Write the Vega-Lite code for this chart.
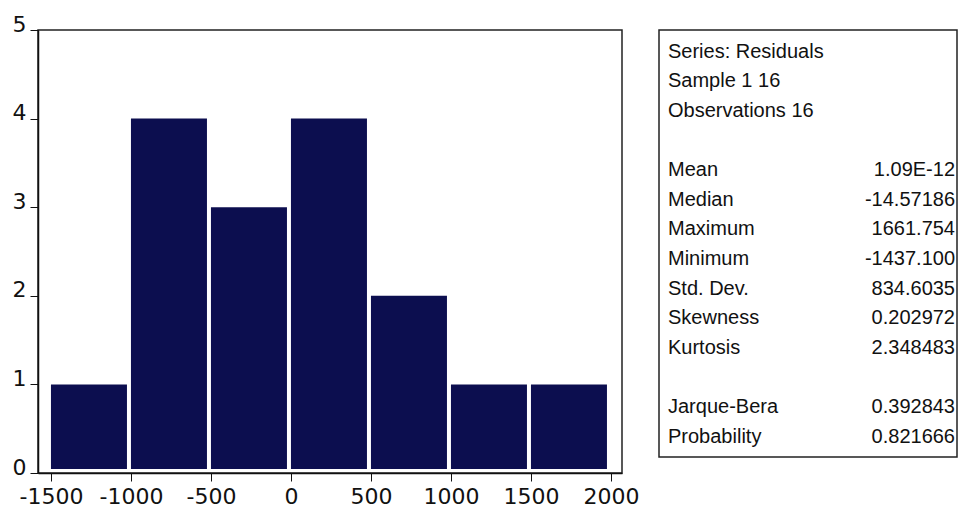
{
  "$schema": "https://vega.github.io/schema/vega-lite/v6.json",
  "background": "white",
  "padding": {"left": 11, "top": 12, "right": 0, "bottom": 0},
  "bounds": "flush",
  "spacing": 37,
  "config": {
    "font": "Liberation Sans",
    "view": {"stroke": "#222222", "strokeWidth": 1.5}
  },
  "hconcat": [
    {
      "width": 584,
      "height": 443,
      "data": {
        "values": [
          {"bin_start": -1500, "bin_end": -1000, "count": 1},
          {"bin_start": -1000, "bin_end": -500, "count": 4},
          {"bin_start": -500, "bin_end": 0, "count": 3},
          {"bin_start": 0, "bin_end": 500, "count": 4},
          {"bin_start": 500, "bin_end": 1000, "count": 2},
          {"bin_start": 1000, "bin_end": 1500, "count": 1},
          {"bin_start": 1500, "bin_end": 2000, "count": 1}
        ]
      },
      "mark": {"type": "bar", "color": "#0c0e4f", "x2Offset": -4, "y2Offset": -4},
      "encoding": {
        "x": {
          "field": "bin_start",
          "type": "quantitative",
          "scale": {"domain": [-1581, 2069], "nice": false, "zero": false},
          "axis": {
            "title": null,
            "values": [-1500, -1000, -500, 0, 500, 1000, 1500, 2000],
            "labelExpr": "'' + datum.value",
            "grid": false,
            "domainColor": "#111111",
            "domainWidth": 1.5,
            "tickColor": "#111111",
            "tickSize": 8,
            "labelFont": "DejaVu Sans",
            "labelFontSize": 22,
            "labelColor": "#111111",
            "labelPadding": 5,
            "labelFlush": false,
            "labelOverlap": false
          }
        },
        "x2": {"field": "bin_end"},
        "y": {
          "field": "count",
          "type": "quantitative",
          "scale": {"domain": [0, 5], "nice": false},
          "axis": {
            "title": null,
            "values": [0, 1, 2, 3, 4, 5],
            "grid": false,
            "domainColor": "#111111",
            "domainWidth": 1.5,
            "tickColor": "#111111",
            "tickSize": 8,
            "labelFont": "DejaVu Sans",
            "labelFontSize": 22,
            "labelColor": "#111111",
            "labelPadding": 4,
            "labelOffset": -6,
            "labelFlush": false,
            "labelOverlap": false
          }
        },
        "y2": {"datum": 0}
      }
    },
    {
      "width": 298,
      "height": 427,
      "data": {
        "values": [
          {"line": 1, "side": "label", "text": "Series: Residuals"},
          {"line": 2, "side": "label", "text": "Sample 1 16"},
          {"line": 3, "side": "label", "text": "Observations 16"},
          {"line": 5, "side": "label", "text": "Mean"},
          {"line": 5, "side": "value", "text": "1.09E-12"},
          {"line": 6, "side": "label", "text": "Median"},
          {"line": 6, "side": "value", "text": "-14.57186"},
          {"line": 7, "side": "label", "text": "Maximum"},
          {"line": 7, "side": "value", "text": "1661.754"},
          {"line": 8, "side": "label", "text": "Minimum"},
          {"line": 8, "side": "value", "text": "-1437.100"},
          {"line": 9, "side": "label", "text": "Std. Dev."},
          {"line": 9, "side": "value", "text": "834.6035"},
          {"line": 10, "side": "label", "text": "Skewness"},
          {"line": 10, "side": "value", "text": "0.202972"},
          {"line": 11, "side": "label", "text": "Kurtosis"},
          {"line": 11, "side": "value", "text": "2.348483"},
          {"line": 13, "side": "label", "text": "Jarque-Bera"},
          {"line": 13, "side": "value", "text": "0.392843"},
          {"line": 14, "side": "label", "text": "Probability"},
          {"line": 14, "side": "value", "text": "0.821666"}
        ]
      },
      "encoding": {
        "x": {
          "field": "side",
          "type": "nominal",
          "scale": {"type": "point", "domain": ["label", "value"], "padding": 0},
          "axis": null
        },
        "y": {
          "field": "line",
          "type": "quantitative",
          "scale": {"domain": [0.267, 14.69], "nice": false, "zero": false, "reverse": true},
          "axis": null
        },
        "text": {"field": "text"}
      },
      "layer": [
        {
          "transform": [{"filter": "datum.side === 'label'"}],
          "mark": {"type": "text", "align": "left", "baseline": "middle", "dx": 9, "fontSize": 20, "color": "#111111"}
        },
        {
          "transform": [{"filter": "datum.side === 'value'"}],
          "mark": {"type": "text", "align": "right", "baseline": "middle", "dx": -2, "fontSize": 20, "color": "#111111"}
        }
      ]
    }
  ]
}
